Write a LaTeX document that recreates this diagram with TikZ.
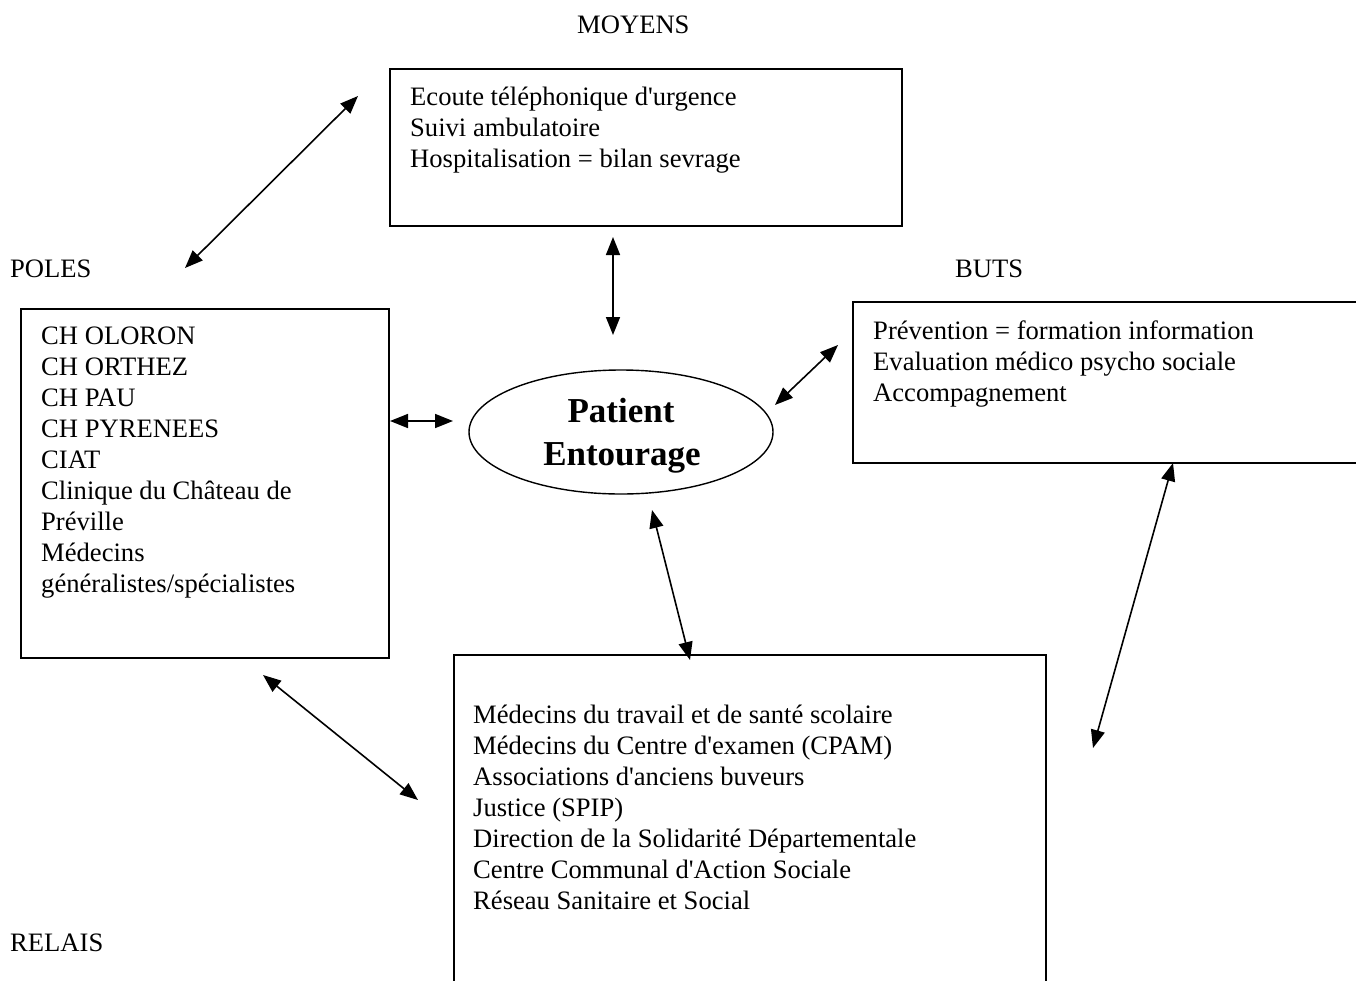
\documentclass[tikz,border=0pt]{standalone}
\usepackage{fontspec}
\setmainfont{Liberation Serif}
\usetikzlibrary{arrows.meta,shapes.geometric}
\begin{document}
\begin{tikzpicture}[x=1pt,y=-1pt,
 box/.style={draw,line width=1.6pt,inner sep=0pt,outer sep=0pt,anchor=north west},
 txt/.style={anchor=base west,inner sep=0pt,font=\fontsize{26.6}{31}\selectfont},
 big/.style={anchor=base,inner sep=0pt,font=\fontsize{35}{43}\selectfont\bfseries},
 link/.style={line width=1.6pt,{Triangle[length=18pt,width=14pt]}-{Triangle[length=18pt,width=14pt]}}]
\useasboundingbox (0,0) rectangle (1356,980);
\clip (0,0) rectangle (1356,980);
% boxes
\node[box,minimum width=512pt,minimum height=157pt] (moyens) at (390,69) {};
\node[box,minimum width=368pt,minimum height=349pt] (poles) at (21,309) {};
\node[box,minimum width=560pt,minimum height=161pt] (buts) at (853,302) {};
\node[box,minimum width=592pt,minimum height=360pt] (relais) at (454,655) {};
\node[draw,ellipse,line width=1.4pt,minimum width=304pt,minimum height=124pt,inner sep=0pt] (patient) at (621,432) {};
\node[big] (pat1) at (621,422) {Patient};
\node[big] (pat2) at (622,465) {Entourage};
% labels
\node[txt] (lmoyens) at (577,33) {MOYENS};
\node[txt] (lpoles) at (10,277) {POLES};
\node[txt] (lbuts) at (955,277) {BUTS};
\node[txt] (lrelais) at (10,951) {RELAIS};
% texts
\foreach \t [count=\i] in {Ecoute téléphonique d\textquotesingle urgence,Suivi ambulatoire,Hospitalisation = bilan sevrage}
  \node[txt] (m\i) at (410,{105+31*(\i-1)}) {\t};
\foreach \t [count=\i] in {CH OLORON,CH ORTHEZ,CH PAU,CH PYRENEES,CIAT,Clinique du Château de,Préville,Médecins,généralistes/spécialistes}
  \node[txt] (p\i) at (41,{344+31*(\i-1)}) {\t};
\foreach \t [count=\i] in {Prévention = formation information,Evaluation médico psycho sociale,Accompagnement}
  \node[txt] (b\i) at (873,{339+31*(\i-1)}) {\t};
\foreach \t [count=\i] in {Médecins du travail et de santé scolaire,Médecins du Centre d\textquotesingle examen (CPAM),Associations d\textquotesingle anciens buveurs,Justice (SPIP),Direction de la Solidarité Départementale,Centre Communal d\textquotesingle Action Sociale,Réseau Sanitaire et Social}
  \node[txt] (r\i) at (473,{723+31*(\i-1)}) {\t};
% arrow ends
\coordinate (a1s) at (185,268); \coordinate (a1e) at (358,96);
\coordinate (a2s) at (613,237); \coordinate (a2e) at (613,335);
\coordinate (a3s) at (390,421); \coordinate (a3e) at (453,421);
\coordinate (a4s) at (775,405); \coordinate (a4e) at (838,345);
\coordinate (a5s) at (1173,463); \coordinate (a5e) at (1093,748);
\coordinate (a6s) at (652,510); \coordinate (a6e) at (690,660);
\coordinate (a7s) at (263,675); \coordinate (a7e) at (418,800);
\draw[link] (a1s) -- (a1e);
\draw[link] (a2s) -- (a2e);
\draw[link] (a3s) -- (a3e);
\draw[link] (a4s) -- (a4e);
\draw[link] (a5s) -- (a5e);
\draw[link] (a6s) -- (a6e);
\draw[link] (a7s) -- (a7e);
\end{tikzpicture}
\end{document}
